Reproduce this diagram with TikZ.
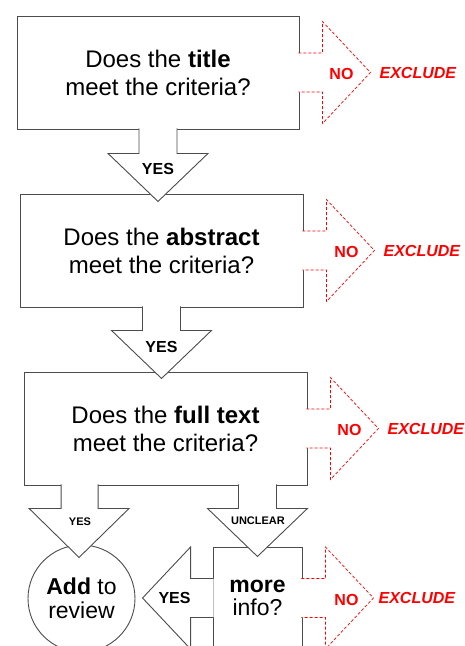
\documentclass[tikz,border=0pt]{standalone}
\usepackage{fontspec}
\setmainfont{Liberation Sans}
\usetikzlibrary{positioning,calc}
\tikzset{
  question/.style={draw=black!70, line width=0.9pt, fill=white, minimum width=282pt, minimum height=113pt, align=center, font=\fontsize{24}{28}\selectfont},
  outline/.style={draw=black!70, line width=0.9pt, fill=white},
  noarrow/.style={draw=red, line width=0.7pt, dash pattern=on 3pt off 2pt, fill=white},
  yeslabel/.style={font=\bfseries\fontsize{16}{18}\selectfont},
  smalllabel/.style={font=\bfseries\fontsize{11}{13}\selectfont},
  nolabel/.style={text=red, font=\bfseries\fontsize{16}{18}\selectfont},
  excllabel/.style={text=red, font=\bfseries\itshape\fontsize{16}{18}\selectfont, inner sep=1pt},
}

\begin{document}
\begin{tikzpicture}[x=1pt, y=-1pt]
  \clip (0,0) rectangle (464,646);
  % the three questions
  \node[question] (title) at (158,72.5) {Does the \textbf{title}\\meet the criteria?};
  \node[question, minimum width=283pt] (abstract) at (161.5,250.5) {Does the \textbf{abstract}\\meet the criteria?};
  \node[question, minimum width=283pt] (fulltext) at (165.5,428.5) {Does the \textbf{full text}\\meet the criteria?};

  % yes arrows
  \filldraw[outline] ([shift={(-19,-1)}]title.south) -- ++(0,25) -- ++(-31,0) -- ++(50,48) -- ++(50,-48) -- ++(-31,0) -- ++(0,-25);
  \node[yeslabel] (yes1) at ($(title.south)+(0,40)$) {YES};
  \filldraw[outline] ([shift={(-19,-1)}]abstract.south) -- ++(0,24) -- ++(-31,0) -- ++(50,48) -- ++(50,-48) -- ++(-31,0) -- ++(0,-24);
  \node[yeslabel] (yes2) at ($(abstract.south)+(0,40)$) {YES};

  % no arrows
  \filldraw[noarrow] ([shift={(-1,-19.5)}]title.east) -- ++(24,0) -- ++(0,-31.5) -- ++(48,51) coordinate (notip1) -- ++(-48,51) -- ++(0,-31.5) -- ++(-24,0);
  \node[nolabel] (no1) at ($(title.east)+(42,1)$) {NO};
  \node[excllabel, right=8pt of notip1] (excl1) {EXCLUDE};
  \filldraw[noarrow] ([shift={(-1,-19.5)}]abstract.east) -- ++(24,0) -- ++(0,-31.5) -- ++(48,51) coordinate (notip2) -- ++(-48,51) -- ++(0,-31.5) -- ++(-24,0);
  \node[nolabel] (no2) at ($(abstract.east)+(43,1)$) {NO};
  \node[excllabel, right=8pt of notip2] (excl2) {EXCLUDE};
  \filldraw[noarrow] ([shift={(-1,-19.5)}]fulltext.east) -- ++(24,0) -- ++(0,-31.5) -- ++(48,51) coordinate (notip3) -- ++(-48,51) -- ++(0,-31.5) -- ++(-24,0);
  \node[nolabel] (no3) at ($(fulltext.east)+(42,1)$) {NO};
  \node[excllabel, right=8pt of notip3] (excl3) {EXCLUDE};

  % bottom row
  \node[outline, circle, minimum size=107pt, align=center, font=\fontsize{23}{24}\selectfont] (review) at (81.5,598.5) {\textbf{Add} to\\review};
  \node[outline, minimum width=89pt, minimum height=102pt, align=center, font=\fontsize{23}{23}\selectfont] (moreinfo) at (257.5,598) {\textbf{more}\\info?};

  \filldraw[outline] ([shift={(37.5,-1)}]fulltext.south west) -- ++(0,24) -- ++(-32,0) -- ++(50,49) -- ++(50,-49) -- ++(-31,0) -- ++(0,-24);
  \node[smalllabel] (yes3) at (80,522) {YES};
  \filldraw[outline] ([shift={(-69,-1)}]fulltext.south east) -- ++(0,24) -- ++(-31,0) -- ++(50,48) -- ++(50,-48) -- ++(-31,0) -- ++(0,-24);
  \node[smalllabel] (unclear) at (258,521) {UNCLEAR};

  \filldraw[outline] ([shift={(1,-19.5)}]moreinfo.west) -- ++(-23,0) -- ++(0,-31.5) -- ++(-48,51) -- ++(48,51) -- ++(0,-31.5) -- ++(23,0);
  \node[yeslabel] (yes4) at ($(moreinfo.west)+(-38,0)$) {YES};

  \filldraw[noarrow] ([shift={(-1,-19.5)}]moreinfo.east) -- ++(24,0) -- ++(0,-31.5) -- ++(48,51) coordinate (notip4) -- ++(-48,51) -- ++(0,-31.5) -- ++(-24,0);
  \node[nolabel] (no4) at ($(moreinfo.east)+(44,2)$) {NO};
  \node[excllabel, right=4pt of notip4] (excl4) {EXCLUDE};
\end{tikzpicture}
\end{document}
